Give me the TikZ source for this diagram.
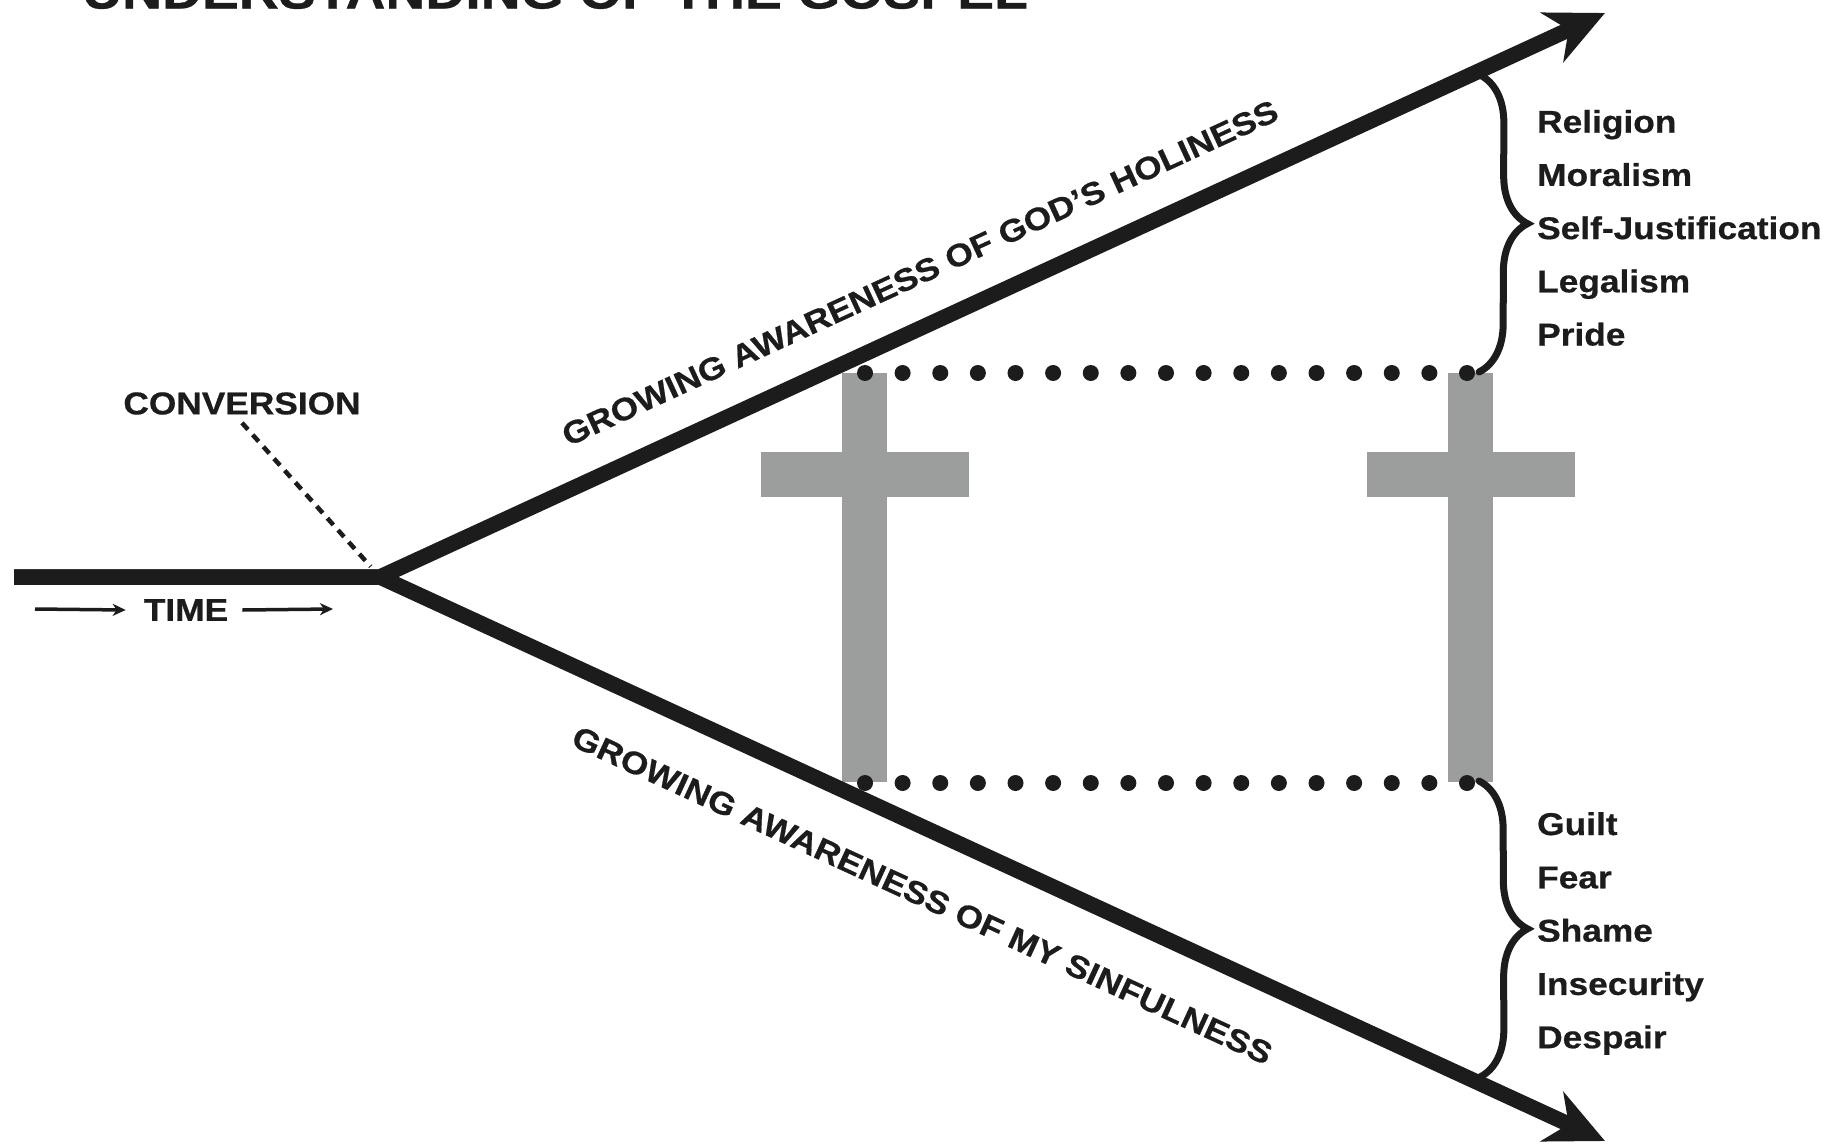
\documentclass[tikz,border=0pt]{standalone}
\usepackage{fontspec}
\usepackage{tikz}
\usetikzlibrary{arrows.meta,positioning,calc,decorations.pathreplacing}
\newfontfamily\diagfont[FakeStretch=1.12,BoldFeatures={FakeBold=0.6}]{Liberation Sans}
\definecolor{ink}{HTML}{1C1C1C}
\definecolor{crossgray}{HTML}{9C9E9D}
\tikzset{
  pathline/.style={draw=ink,line width=15.5pt,line join=miter,
                   -{Stealth[length=58pt,width=54pt,inset=18pt]}},
  lbltext/.style={font=\diagfont\bfseries\fontsize{31.5}{36}\selectfont,
                  text=ink,inner sep=0pt},
  itemtext/.style={lbltext,anchor=base west},
  titletext/.style={font=\diagfont\bfseries\fontsize{49.4}{56}\selectfont,
                    text=ink,inner sep=0pt,anchor=base west},
  timearr/.style={-{Stealth[length=13pt,width=12pt,inset=4pt]},
                  draw=ink,line width=3.5pt},
  convdash/.style={draw=ink,line width=4.5pt,dash pattern=on 9pt off 7pt},
  dotrow/.style={draw=ink,line width=16pt,line cap=round,
                 dash pattern=on 0pt off 37.625pt},
  beam/.style={fill=crossgray},
  bracket/.style={decorate,decoration={brace,amplitude=48pt},
                  draw=ink,line width=7pt,line cap=round}
}
\begin{document}
\begin{tikzpicture}[x=1pt,y=-1pt]
    \path[use as bounding box,fill=white] (0,0) rectangle (1832,1146);

    % title, cut by the top edge
    \node[titletext] (title) at (82,8.5) {UNDERSTANDING OF THE GOSPEL};

    \coordinate (stem) at (14,577);
    \coordinate (fork) at (380,577);
    \coordinate (holyEnd) at (1605,13);
    \coordinate (sinEnd) at (1605,1141);

    % the two crosses
    \foreach \cx in {864.5,1470.5}{
      \fill[beam] (\cx-22.5,373) rectangle (\cx+22.5,782);
      \fill[beam] (\cx-104,452) rectangle (\cx+104,497);
    }

    \draw[pathline] (stem) -- (fork) -- (holyEnd);
    \draw[pathline] (stem) -- (fork) -- (sinEnd);

    \path (fork) -- (holyEnd)
      node[lbltext,pos=0.458,sloped,above=39pt] (holyLbl)
      {GROWING AWARENESS OF GOD’S HOLINESS};
    \path (fork) -- (sinEnd)
      node[lbltext,pos=0.464,sloped,below=51pt] (sinLbl)
      {GROWING AWARENESS OF MY SINFULNESS};

    \node[lbltext] (convLbl) at (242,403.5) {CONVERSION};
    \draw[convdash,shorten >=14pt] ([yshift=-8pt]convLbl.south) -- (fork);

    \node[lbltext] (timeLbl) at (186,610) {TIME};
    \coordinate (timeTail) at (35,609);
    \coordinate (timeHead) at (333,609);
    \draw[timearr] (timeTail) -- ([xshift=-18pt]timeLbl.west);
    \draw[timearr] ([xshift=14pt]timeLbl.east) -- (timeHead);

    % dotted rows
    \coordinate (topDotL) at (865,373);
    \coordinate (topDotR) at (1468,373);
    \coordinate (lowDotL) at (865,783);
    \coordinate (lowDotR) at (1468,783);
    \draw[dotrow] (topDotL) -- (topDotR);
    \draw[dotrow] (lowDotL) -- (lowDotR);

    % braces and lists
    \coordinate (holyBrTop) at (1480,75);
    \coordinate (holyBrBot) at (1479,372);
    \coordinate (sinBrTop) at (1479,781);
    \coordinate (sinBrBot) at (1480,1077);
    \draw[bracket] (holyBrTop) -- (holyBrBot);
    \draw[bracket] (sinBrTop) -- (sinBrBot);

    \foreach \w [count=\i] in {Religion,Moralism,Self-Justification,Legalism,Pride}
      \node[itemtext] (idol\i) at (1537,{132.7+53.2*(\i-1)}) {\w};
    \foreach \w [count=\i] in {Guilt,Fear,Shame,Insecurity,Despair}
      \node[itemtext] (fruit\i) at (1537,{835+53.3*(\i-1)}) {\w};
  \end{tikzpicture}
\end{document}
